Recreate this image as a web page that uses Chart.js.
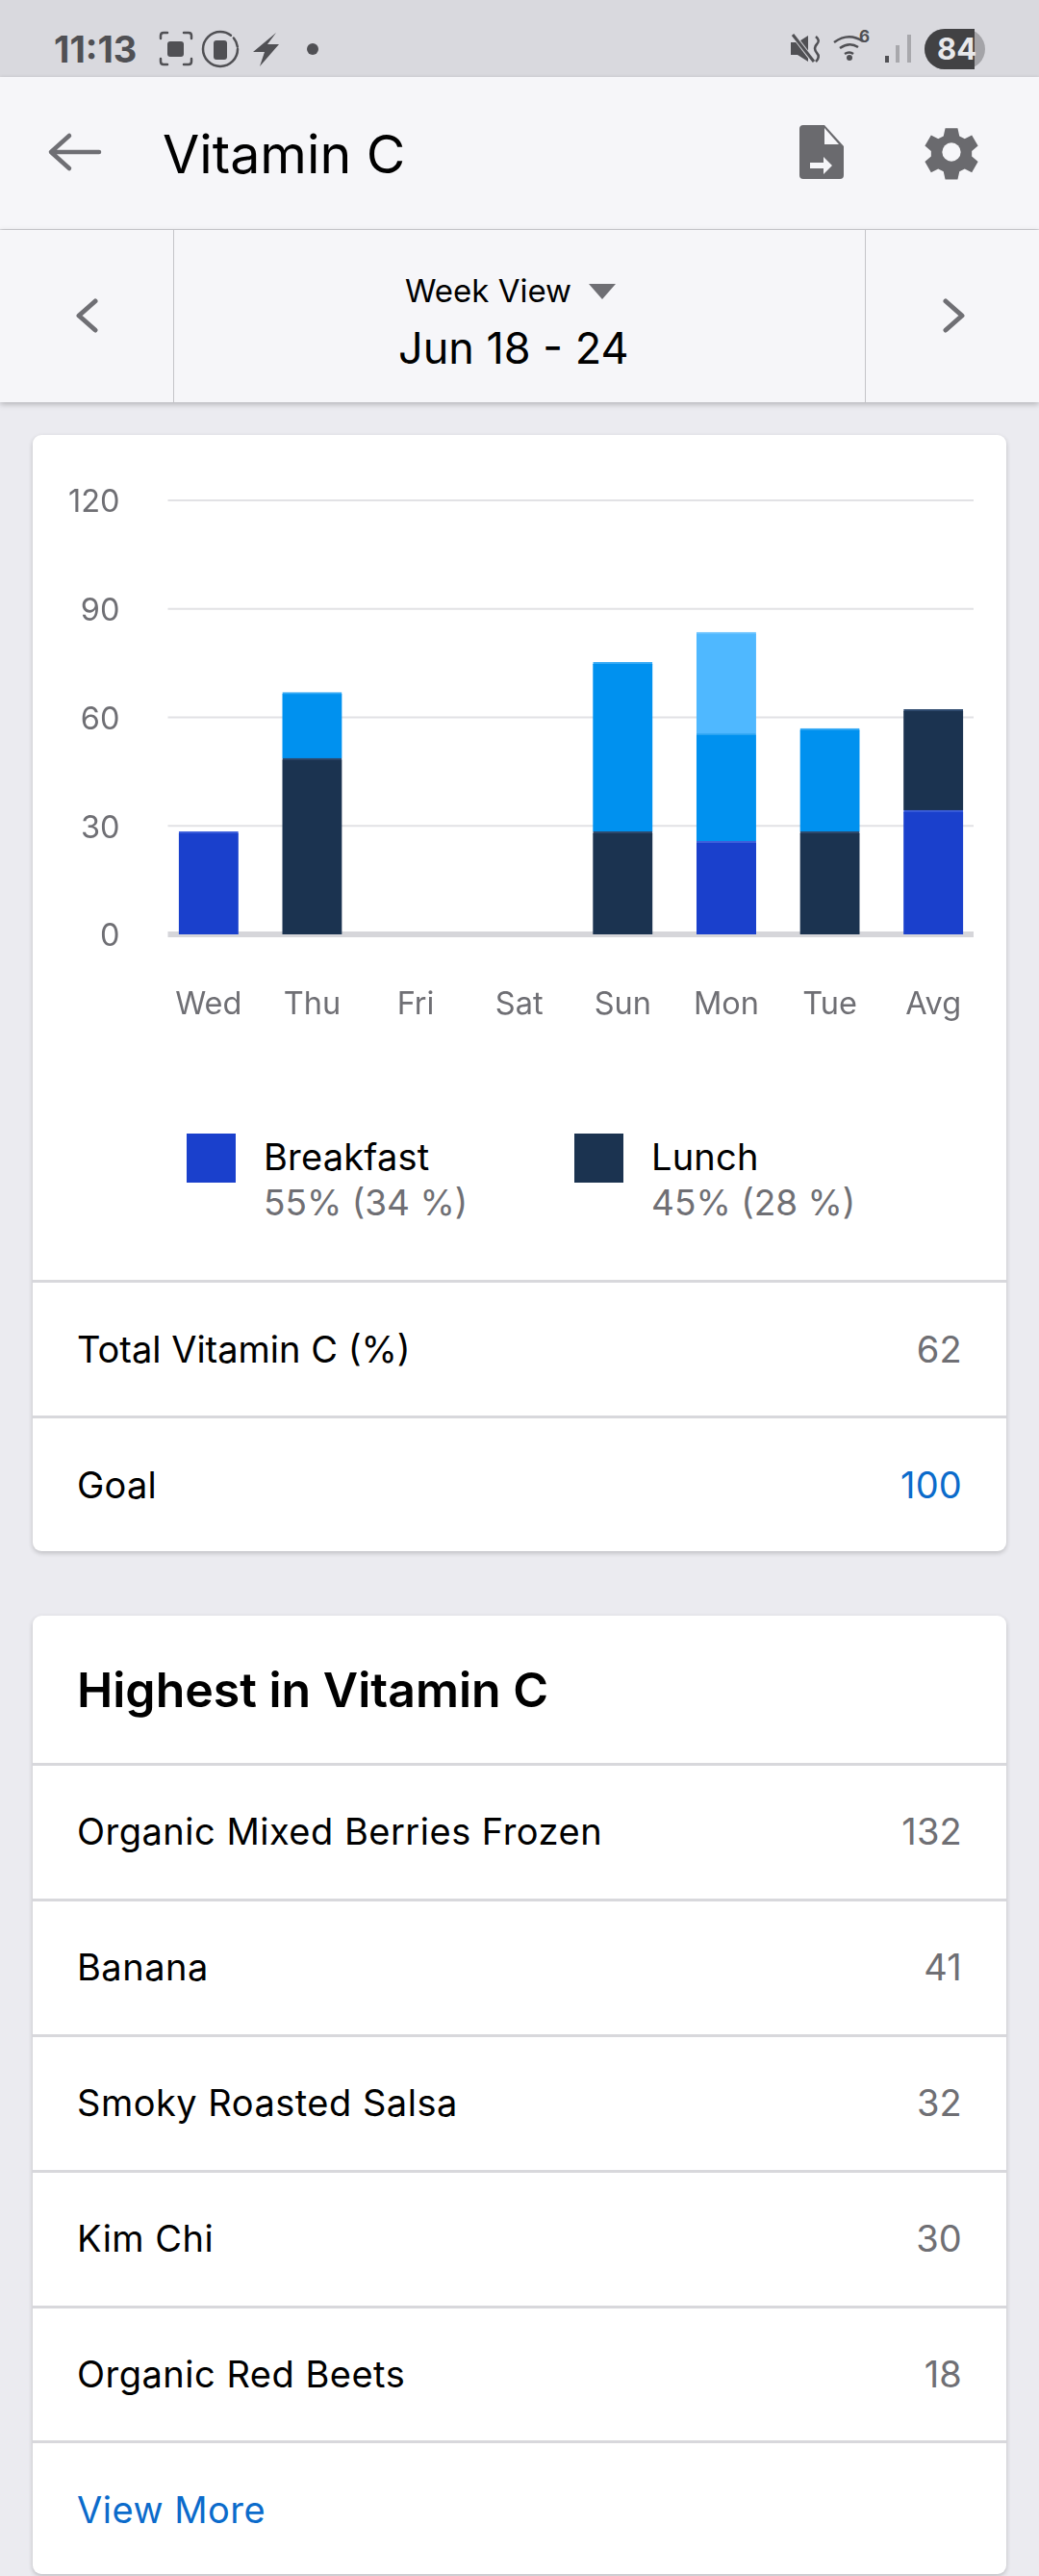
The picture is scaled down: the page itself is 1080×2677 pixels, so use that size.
<!DOCTYPE html>
<html>
<head>
<meta charset="utf-8">
<script src="https://cdn.jsdelivr.net/npm/chart.js@4"></script>
<style>
    html, body { margin: 0; padding: 0; }
    body { width: 1080px; height: 2677px; position: relative; overflow: hidden; background: #ebebf0; font-family: Inter, sans-serif; color: #000; }
    .t { position: absolute; white-space: nowrap; line-height: 50px; height: 50px; margin-top: -25px; }
    .b { font-size: 38px; letter-spacing: 0.2px; }
    .f { letter-spacing: 0.5px; }
    .r { right: 80px; text-align: right; color: #6f6f74; }
    .box { position: absolute; }
    .line { position: absolute; left: 34px; width: 1012px; height: 3px; background: #d8d8dc; }
    .card { position: absolute; left: 34px; width: 1012px; background: #fff; border-radius: 9px; box-shadow: 0 2px 5px rgba(0,0,0,0.2); }
    svg { position: absolute; }
</style>
</head>
<body>
<div class="box" style="left:0;top:0;width:1080px;height:80px;background:#d9d9de"></div>
<div class="box" style="left:0;top:80px;width:1080px;height:158px;background:#f6f6f9;box-shadow:0 1px 4px rgba(0,0,0,0.2)"></div>
<div class="box" style="left:0;top:239px;width:1080px;height:179px;background:#f6f6f9;box-shadow:0 2px 6px rgba(0,0,0,0.25)"></div>
<div class="box" style="left:180px;top:239px;width:1px;height:179px;background:#c4c4c8"></div>
<div class="box" style="left:899px;top:239px;width:1px;height:179px;background:#c4c4c8"></div>

<div class="t" style="left:56px;top:51px;font:700 38px Inter;line-height:50px;color:#505054">11:13</div>
<svg style="left:0;top:0" width="1080" height="80">
    <g fill="none" stroke="#505054" stroke-width="2.5" stroke-linecap="round">
        <path d="M167 40v-3q0-3 3-3h4M191 34h5q3 0 3 3v3M199 61v3q0 3-3 3h-5M174 67h-4q-3 0-3-3v-3"/>
        <circle cx="229" cy="51" r="18" stroke-dasharray="96 4 10 4"/>
    </g>
    <rect x="174" y="43" width="17" height="16" rx="3" fill="#505054"/>
    <rect x="222" y="42" width="14" height="20" rx="3" fill="#505054"/>
    <path d="M287 34l-24 20h12l-5 15 20-23h-12z" fill="#505054"/>
    <circle cx="325" cy="51" r="6" fill="#505054"/>
    <path d="M822 44v13h7l11 7V37l-11 7z" fill="#505054"/>
    <path d="M825 37l20 26" stroke="#d9d9de" stroke-width="5"/>
    <path d="M824 36l22 28" stroke="#505054" stroke-width="3"/>
    <path d="M848 38q5 4 1 8t0 9q4 4-1 9" fill="none" stroke="#505054" stroke-width="2.5"/>
    <path d="M867 44q15-11 30-1M873 50q10-7 19-1M878 56q5-3 9 0" fill="none" stroke="#505054" stroke-width="2.5"/>
    <circle cx="883" cy="60" r="3" fill="#505054"/>
    <rect x="920" y="58" width="4" height="7" fill="#505054"/>
    <rect x="931" y="47" width="4" height="18" fill="#a8a8ac"/>
    <rect x="943" y="36" width="4" height="29" fill="#a8a8ac"/>
    <path d="M982 30h21a21 21 0 0 1 0 42h-21a21 21 0 0 1 0-42z" fill="#a4a4a8"/>
    <path d="M982 30h31v42h-31a21 21 0 0 1 0-42z" fill="#424244"/>
</svg>
<div class="t" style="left:893px;top:38px;font:700 17px Inter;line-height:50px;color:#505054">6</div>
<div class="t" style="left:974px;top:51px;font:700 31px Inter;line-height:50px;color:#e8e8ea">84</div>

<svg style="left:0;top:80px" width="1080" height="340">
    <path d="M53 78h50M72 61l-19 17 19 17" fill="none" stroke="#6f6f74" stroke-width="4.5" stroke-linecap="round" stroke-linejoin="round"/>
    <path d="M835 50h22l20 22v30q0 4-4 4h-38q-4 0-4-4V54q0-4 4-4z" fill="#6a6a6e"/>
    <path d="M857 53v17h15z" fill="#f6f6f9"/>
    <path d="M842 89h14v-6l9 9-9 9v-6h-14z" fill="#f6f6f9"/>
    <g transform="translate(989,78) scale(0.92)">
        <path d="M-7-27h14l2 9 6 3 8-4 7 12-7 6v6l7 6-7 12-8-4-6 3-2 9h-14l-2-9-6-3-8 4-7-12 7-6v-6l-7-6 7-12 8 4 6-3z" fill="#6a6a6e"/>
        <circle r="10.5" fill="#f6f6f9"/>
    </g>
    <path d="M612 215h28l-14 16z" fill="#6f6f74"/>
    <path d="M99 233l-17 15 17 15M983 233l17 15-17 15" fill="none" stroke="#6f6f74" stroke-width="5" stroke-linecap="round" stroke-linejoin="round"/>
</svg>
<div class="t" style="left:169px;top:160px;font-size:55.5px">Vitamin C</div>
<div class="t" style="left:421px;top:302px;font-size:33px">Week View</div>
<div class="t" style="left:414px;top:362px;font-size:45px">Jun 18 - 24</div>

<div class="card" style="top:452px;height:1160px"></div>
<div class="box" style="left:34px;top:452px;width:1012px;height:650px"><canvas id="vitaminChart"></canvas></div>
<div id="legend"></div>
<div class="line" style="top:1330px"></div>
<div class="line" style="top:1471px"></div>
<div class="t b" style="left:80px;top:1402px;letter-spacing:0">Total Vitamin C (%)</div>
<div class="t b r" style="top:1402px">62</div>
<div class="t b" style="left:80px;top:1543px">Goal</div>
<div class="t b r" style="top:1543px;color:#0b6bcb">100</div>

<div class="card" style="top:1679px;height:996px"></div>
<div class="t" style="left:80px;top:1756px;font-size:50px;font-weight:600">Highest in Vitamin C</div>
<div id="foodRows"></div>
<div class="t b f" style="left:80px;top:2608px;color:#0b6bcb">View More</div>

<script>
const days = ["Wed", "Thu", "Fri", "Sat", "Sun", "Mon", "Tue", "Avg"];
const yTicks = [0, 30, 60, 90, 120];
const breakfast = [28.4, null, null, null, null, 25.7, null, 34.3];
const lunch = [null, 48.7, null, null, 28.4, null, 28.4, 27.9];
const lunchSecond = [null, 18.2, null, null, 46.8, 29.9, 28.5, null];
const lunchThird = [null, null, null, null, null, 27.9, null, null];

const legendNames = ["Breakfast", "Lunch"];
const legendShares = ["55% (34 %)", "45% (28 %)"];
const foods = ["Organic Mixed Berries Frozen", "Banana", "Smoky Roasted Salsa", "Kim Chi", "Organic Red Beets"];
const foodAmounts = [132, 41, 32, 30, 18];

const grey = "#6f6f74";

// 가로선이 막대 영역보다 짧아서 직접 그림
const shortGrid = {
    id: "shortGrid",
    beforeDatasetsDraw(chart) {
        const ctx = chart.ctx;
        const y = chart.scales.y;
        y.ticks.forEach(tick => {
            const py = y.getPixelForValue(tick.value);
            ctx.fillStyle = tick.value === 0 ? "#d6d6da" : "#e2e2e5";
            const h = tick.value === 0 ? 6 : 2;
            ctx.fillRect(140.5, py - h / 2, 837.5, h);
        });
    }
};

// Inter 숫자가 격자선보다 살짝 위로 가서 내려줌
const nudgeYLabels = {
    id: "nudgeYLabels",
    beforeDraw(chart) {
        chart.scales.y.getLabelItems().forEach(item => {
            item.options.translation[1] += 2.5;
        });
    }
};

function barSet(label, data, color, edge) {
    return {
        label: label,
        data: data,
        backgroundColor: color,
        borderColor: edge,
        borderWidth: { top: 2, left: 0, right: 0, bottom: 0 },
        borderSkipped: false,
        barThickness: 62
    };
}

function drawChart() {
    const ctx = document.getElementById("vitaminChart").getContext("2d");
    new Chart(ctx, {
        type: "bar",
        data: {
            labels: days,
            datasets: [
                barSet("Breakfast", breakfast, "#1a40cc", "#3d5fdb"),
                barSet("Lunch", lunch, "#1b3350", "#2e4a6e"),
                barSet("Lunch 2", lunchSecond, "#0091ef", "#36aaf5"),
                barSet("Lunch 3", lunchThird, "#4fb8ff", "#6cc4ff")
            ]
        },
        options: {
            responsive: true,
            maintainAspectRatio: false,
            animation: false,
            layout: { padding: { top: 68, left: 0, right: 22, bottom: 0 } },
            plugins: { legend: { display: false }, tooltip: { enabled: false } },
            scales: {
                x: {
                    stacked: true,
                    grid: { display: false, drawTicks: false },
                    border: { display: false },
                    ticks: { color: grey, padding: 54, autoSkip: false, maxRotation: 0, font: { family: "Inter", size: 32.5 } },
                    afterFit(scale) {
                        scale.height = 131;
                        scale.paddingLeft = 0;
                        scale.paddingRight = 0;
                    }
                },
                y: {
                    stacked: true,
                    min: 0,
                    max: 120,
                    afterBuildTicks(scale) { scale.ticks = yTicks.map(v => ({ value: v })); },
                    grid: { display: false, drawTicks: false },
                    border: { display: false },
                    ticks: { color: grey, padding: 38.5, font: { family: "Inter", size: 32.5 } },
                    afterFit(scale) { scale.width = 129; }
                }
            }
        },
        plugins: [shortGrid, nudgeYLabels]
    });
}

function drawLegend() {
    const colors = ["#1a40cc", "#1b3350"];
    const boxLeft = [194, 597];
    const textLeft = [274, 677];
    const el = document.getElementById("legend");
    legendNames.forEach((name, i) => {
        el.innerHTML +=
            `<div class="box" style="left:${boxLeft[i]}px;top:1178px;width:51px;height:51px;background:${colors[i]}"></div>` +
            `<div class="t b" style="left:${textLeft[i]}px;top:1202px">${name}</div>` +
            `<div class="t" style="left:${textLeft[i]}px;top:1250px;font-size:37px;color:${grey}">${legendShares[i]}</div>`;
    });
}

function drawFoods() {
    const el = document.getElementById("foodRows");
    foods.forEach((food, i) => {
        const mid = 1903 + i * 141;
        el.innerHTML +=
            `<div class="line" style="top:${mid - 71}px"></div>` +
            `<div class="t b f" style="left:80px;top:${mid}px">${food}</div>` +
            `<div class="t b r" style="top:${mid}px">${foodAmounts[i]}</div>`;
    });
    el.innerHTML += `<div class="line" style="top:2536px"></div>`;
}

drawLegend();
drawFoods();
drawChart();
</script>
</body>
</html>
